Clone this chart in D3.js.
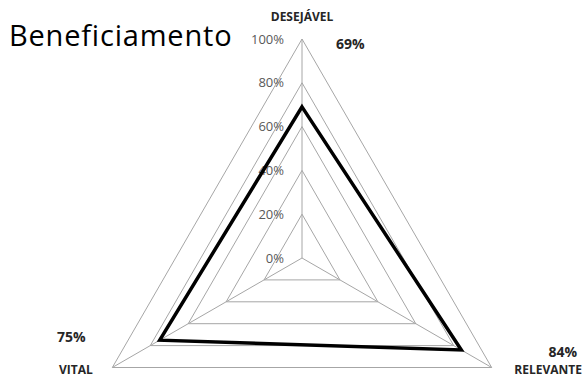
<!DOCTYPE html>
<html>
<head>
<meta charset="utf-8">
<script src="https://cdn.jsdelivr.net/npm/d3@7"></script>
<style>
  html, body { margin: 0; padding: 0; background: #fff; }
  svg { display: block; }
</style>
</head>
<body>
<svg id="chart" width="587" height="379"></svg>
<script>
// Radar chart data
const categories = ["DESEJÁVEL", "RELEVANTE", "VITAL"];
const values = [69, 84, 75];
const tickValues = [0, 20, 40, 60, 80, 100];
const tickLabels = ["0%", "20%", "40%", "60%", "80%", "100%"];
const title = "Beneficiamento";

const width = 587, height = 379;
const cx = 302, cy = 258;
const svg = d3.select("#chart");
const font = "'Open Sans', Lato, sans-serif";

const r = d3.scaleLinear().domain([0, 100]).range([0, 219]);
const angle = d3.scaleLinear().domain([0, categories.length]).range([0, 2 * Math.PI]);

function pt(i, v) {
  const a = angle(i);
  return [cx + r(v) * Math.sin(a), cy - r(v) * Math.cos(a)];
}

const g = svg.append("g");

// Grid triangles
const line = d3.line();
tickValues.slice(1).forEach(t => {
  const pts = categories.map((c, i) => pt(i, t));
  g.append("path")
    .attr("d", line(pts) + "Z")
    .attr("fill", "none")
    .attr("stroke", "#a6a6a6")
    .attr("stroke-width", 1);
});

// Spokes
categories.forEach((c, i) => {
  const [x, y] = pt(i, 100);
  g.append("line")
    .attr("x1", cx).attr("y1", cy)
    .attr("x2", x).attr("y2", y)
    .attr("stroke", "#a6a6a6")
    .attr("stroke-width", 1);
});

// Radial tick labels
tickValues.forEach((t, k) => {
  g.append("text")
    .attr("x", cx - 18)
    .attr("y", cy - r(t))
    .attr("dy", "0.35em")
    .attr("text-anchor", "end")
    .attr("font-family", font)
    .attr("font-size", 13)
    .attr("fill", "#595959")
    .text(tickLabels[k]);
});

// Data series
const dataPts = values.map((v, i) => pt(i, v));
g.append("path")
  .attr("d", line(dataPts) + "Z")
  .attr("fill", "none")
  .attr("stroke", "#000")
  .attr("stroke-width", 3.5)
  .attr("stroke-linejoin", "miter");

// Category labels and value labels
const catPos = [
  { x: cx, y: 21, anchor: "middle" },
  { x: 582, y: 374, anchor: "end" },
  { x: 59, y: 374, anchor: "start" }
];
const valPos = [
  { x: 336, y: 49, anchor: "start" },
  { x: 577, y: 357, anchor: "end" },
  { x: 57, y: 342, anchor: "start" }
];
categories.forEach((c, i) => {
  svg.append("text")
    .attr("x", catPos[i].x).attr("y", catPos[i].y)
    .attr("text-anchor", catPos[i].anchor)
    .attr("font-family", font)
    .attr("font-weight", "bold")
    .attr("font-size", 12)
    .attr("fill", "#262626")
    .text(c);
  svg.append("text")
    .attr("x", valPos[i].x).attr("y", valPos[i].y)
    .attr("text-anchor", valPos[i].anchor)
    .attr("font-family", font)
    .attr("font-weight", "bold")
    .attr("font-size", 14)
    .attr("fill", "#262626")
    .text(values[i] + "%");
});

// Title
svg.append("text")
  .attr("x", 9).attr("y", 46)
  .attr("font-family", font)
  .attr("font-size", 29)
  .attr("letter-spacing", 0.8)
  .attr("fill", "#000")
  .text(title);
</script>
</body>
</html>
